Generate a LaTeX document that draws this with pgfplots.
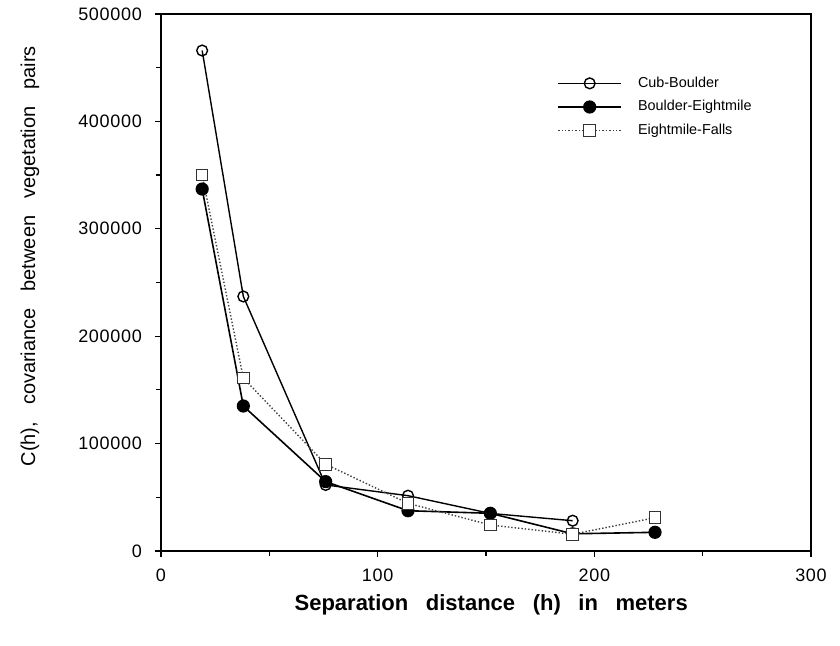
\documentclass[border=0pt]{standalone}
\usepackage{pgfplots}
\pgfplotsset{compat=1.18}
\usepackage{fontspec}
\setmainfont{Liberation Sans}
\newfontfamily\tickfont[LetterSpace=4]{Liberation Sans}

\pgfplotstableread{
x y
19 466000
38 237000
76 61500
114 51500
152 35000
190 28200
}\cubboulder

\pgfplotstableread{
x y
19 337000
38 135000
76 64600
114 37500
152 35100
190 16000
228 17400
}\bouldereight

\pgfplotstableread{
x y
19 350000
38 161000
76 80800
114 44400
152 24200
190 15600
228 31000
}\eightfalls

\begin{document}
\begin{tikzpicture}
\begin{axis}[
    width=325pt, height=268.5pt,
    scale only axis,
    xmin=0, xmax=300, ymin=0, ymax=500000,
    xtick={0,100,200,300},
    ytick={0,100000,200000,300000,400000,500000},
    minor x tick num=1, minor y tick num=1,
    xtick pos=bottom, ytick pos=left,
    tick align=outside,
    major tick length=3pt, minor tick length=2.5pt,
    every tick/.style={black, line width=0.6pt},
    axis line style={line width=0.7pt},
    scaled y ticks=false,
    /pgf/number format/assume math mode=true,
    yticklabel style={/pgf/number format/fixed, /pgf/number format/1000 sep={}, xshift=-3pt},
    xticklabel style={yshift=-2.5pt},
    tick label style={font=\tickfont\fontsize{9}{10}\selectfont},
    xlabel={\bfseries\spaceskip=0.8em\relax Separation distance (h) in meters},
    ylabel={\spaceskip=0.85em\relax C(h), covariance between vegetation pairs},
    xlabel style={font=\fontsize{11}{13}\selectfont, at={(axis description cs:0.508,-0.1)}, anchor=center},
    ylabel style={font=\fontsize{10}{12}\selectfont, at={(axis description cs:-0.2015,0.549)}, anchor=center},
    legend style={draw=none, fill=none, at={(rel axis cs:0.6,0.899)}, anchor=north west,
        font=\fontsize{7.2}{8}\selectfont, row sep=1.1pt, legend cell align=left},
    legend image code/.code={\draw[#1, mark repeat=2, mark phase=2]
        plot coordinates {(0pt,0pt) (15.75pt,0pt) (31.5pt,0pt)}; \path (37.5pt,0pt);},
]
\addplot[black, line width=0.7pt, mark=o, mark size=2.7pt, mark options={fill=white, line width=0.7pt}] table {\cubboulder};
\addlegendentry{Cub-Boulder}
\addplot[black, line width=0.8pt, mark=*, mark size=2.9pt] table {\bouldereight};
\addlegendentry{Boulder-Eightmile}
\addplot[black!75, densely dotted, line width=0.7pt, mark=square*, mark size=2.9pt,
    mark options={solid, fill=white, draw=black!80, line width=0.5pt}] table {\eightfalls};
\addlegendentry{Eightmile-Falls}
\end{axis}
\pgfresetboundingbox
\path (current axis.south west) ++(-80.5pt,-47.5pt) coordinate (bl);
\path (current axis.north east) ++(14.5pt,7pt) coordinate (tr);
\path (bl) rectangle (tr);
\end{tikzpicture}
\end{document}
